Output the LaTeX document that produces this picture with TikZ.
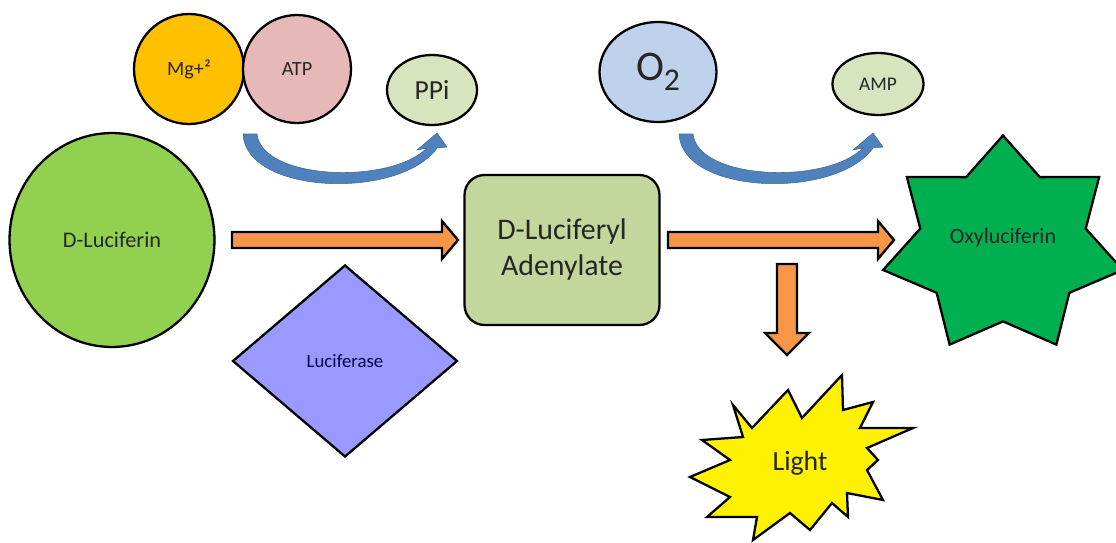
\documentclass[tikz,border=0pt]{standalone}
\usepackage{fontspec}
\setmainfont{Carlito}
\usetikzlibrary{shapes.geometric,positioning}
\definecolor{mgcol}{RGB}{255,192,0}
\definecolor{atpcol}{RGB}{230,185,184}
\definecolor{palegreen}{RGB}{215,228,189}
\definecolor{oxcol}{RGB}{190,210,235}
\definecolor{luccol}{RGB}{146,208,80}
\definecolor{adlcol}{RGB}{195,214,155}
\definecolor{enzcol}{RGB}{153,153,255}
\definecolor{oxycol}{RGB}{0,176,80}
\definecolor{arrorange}{RGB}{247,150,70}
\definecolor{arrblue}{RGB}{79,129,189}
\tikzset{
  blob/.style={ draw, line width=1.3pt, text=black!85, inner sep=0pt }
}
\tikzset{
  circMg/.style={ blob, circle, fill=mgcol, minimum size=2.2cm, font=\fontsize{11.5}{13}\selectfont }
}
\tikzset{
  circATP/.style={ blob, circle, fill=atpcol, minimum size=2.16cm, font=\fontsize{11.5}{13}\selectfont }
}
\tikzset{
  ellSmall/.style={ blob, ellipse, fill=palegreen }
}
\tikzset{
  circLuc/.style={ blob, ellipse, fill=luccol, minimum width=4.1cm, minimum height=4.28cm, font=\fontsize{12.7}{14}\selectfont }
}
\tikzset{
  boxAdl/.style={ blob, rectangle, rounded corners=0.4cm, fill=adlcol, minimum width=3.9cm, minimum height=3cm, align=center, font=\fontsize{17}{20.5}\selectfont }
}
\tikzset{
  diaEnz/.style={ blob, diamond, fill=enzcol, minimum width=4.5cm, minimum height=3.84cm, text=black!70!blue, font=\fontsize{10.7}{12}\selectfont }
}
\tikzset{
  starOxy/.style={ draw, line width=1.3pt, fill=oxycol, line join=miter }
}
\tikzset{
  burst/.style={ draw, line width=1.3pt, fill=yellow, line join=miter }
}
\tikzset{
  blockarrow/.style={ draw, line width=1.3pt, fill=arrorange, line join=miter }
}
\tikzset{
  bendarrow/.style={ fill=arrblue, draw=arrblue!80!black, line width=0.3pt }
}

\begin{document}
\begin{tikzpicture}[x=0.02cm, y=-0.02cm]
  \useasboundingbox (0,0) rectangle (1116,542);
  % reactants and products
  \node[circMg] (mg) at (189,69) {Mg+²};
  \node[circATP] (atp) at (297,69) {ATP};
  \node[ellSmall, minimum width=1.8cm, minimum height=1.4cm, font=\fontsize{15.7}{17}\selectfont] (ppi) at (432,90) {PPi};
  \node[ellSmall, fill=oxcol, minimum width=2.34cm, minimum height=2cm, font=\fontsize{24}{26}\selectfont] (oxygen) at (658,72) {O\raisebox{-0.5ex}{\fontsize{18}{18}\selectfont 2}};
  \node[ellSmall, minimum width=1.82cm, minimum height=1.24cm, font=\fontsize{11}{12}\selectfont] (amp) at (878,84) {AMP};
  \node[circLuc] (luc) at (112,240) {D-Luciferin};
  \node[boxAdl] (adl) at (562,250) {D-Luciferyl\\Adenylate};
  \node[diaEnz] (enz) at (345,361) {Luciferase};
  % seven point star
  \draw[starOxy] plot[samples at={0,...,13}, variable=\k]
    ({1003+123*(1-0.31*mod(\k,2))*cos(90+\k*360/14)}, {245.5-110*(1-0.31*mod(\k,2))*sin(90+\k*360/14)}) -- cycle;
  \node[text=black!85, font=\fontsize{12.5}{14}\selectfont] (oxy) at (1003,238) {Oxyluciferin};
  % light burst
  \draw[burst] plot coordinates {(733,405) (752,428) (788,390) (802,418) (842,375) (843,410) (873,402) (860,428) (913,428) (867,448) (878,460) (867,470) (883,500) (847,493) (848,517) (832,503) (810,530) (790,513) (753,540) (757,517) (707,517) (730,497) (690,477) (730,460) (702,440) (743,437)} -- cycle;
  \node[text=black!85, font=\fontsize{15.8}{17}\selectfont] (light) at (800,463) {Light};
  % curved arrows
  \foreach \dx in {0,436} {
    \draw[bendarrow, shift={(\dx,0)}] (243,134) .. controls (246,195) and (400,200) .. (437,148)
      -- (447,147) -- (437,133) -- (417,150) -- (427,148)
      .. controls (390,185) and (262,180) .. (257,134) -- cycle;
  }
  % block arrows
  \foreach \dx in {0,436} {
    \draw[blockarrow, shift={(\dx,0)}] (232,232) -- (442,232) -- (442,221) -- (458,240)
      -- (442,259) -- (442,248) -- (232,248) -- cycle;
  }
  \draw[blockarrow] (777,264) -- (797,264) -- (797,333) -- (809,333) -- (787,355)
    -- (765,333) -- (777,333) -- cycle;
\end{tikzpicture}
\end{document}
